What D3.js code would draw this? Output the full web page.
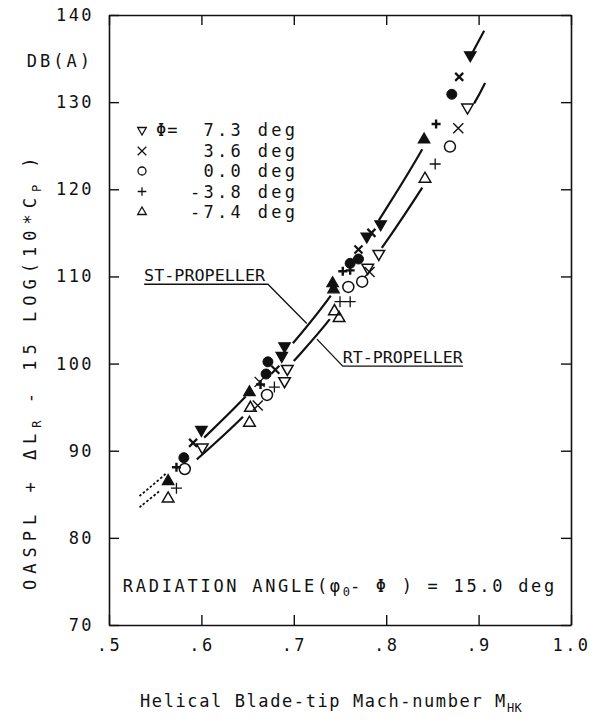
<!DOCTYPE html>
<html><head><meta charset="utf-8">
<script src="https://cdn.jsdelivr.net/npm/d3@7"></script>
<style>
body{margin:0;background:#fff}
text{font-family:'DejaVu Sans Mono',monospace;fill:#111;white-space:pre}
</style></head>
<body><svg id="c" width="590" height="723"></svg>
<script>
// ---------- data ----------
const xTicks = [0.5, 0.6, 0.7, 0.8, 0.9, 1.0];
const xTickLabels = [".5", ".6", ".7", ".8", ".9", "1.0"];
const yTicks = [70, 80, 90, 100, 110, 120, 130, 140];
const yTickLabels = ["70", "80", "90", "100", "110", "120", "130", "140"];
const legendPhi = ["7.3", "3.6", "0.0", "-3.8", "-7.4"];

// [Mach number, dB]  ST-propeller (filled / bold) and RT-propeller (open / thin)
const st_phi73  = [[0.600,92.4],[0.687,100.9],[0.690,102.0],[0.779,114.6],[0.794,116.0],[0.891,135.4]];
const rt_phi73  = [[0.601,90.4],[0.690,98.0],[0.693,99.4],[0.780,111.0],[0.792,112.6],[0.888,129.4]];
const st_phi36  = [[0.591,90.9],[0.680,99.3],[0.770,113.1],[0.784,115.0],[0.879,132.9]];
const rt_phi36  = [[0.663,97.9],[0.661,95.2],[0.782,110.5],[0.878,127.0]];
const st_phi00  = [[0.581,89.2],[0.670,98.8],[0.672,100.2],[0.761,111.5],[0.770,112.0],[0.871,130.9]];
const rt_phi00  = [[0.582,87.9],[0.671,96.4],[0.759,108.8],[0.774,109.4],[0.869,124.9]];
const st_phim38 = [[0.573,88.1],[0.664,97.6],[0.753,110.6],[0.761,110.7],[0.854,127.5]];
const rt_phim38 = [[0.573,85.7],[0.679,97.3],[0.750,107.1],[0.761,107.1],[0.853,122.9]];
const st_phim74 = [[0.564,86.5],[0.652,96.7],[0.742,109.2],[0.743,108.5],[0.841,125.7]];
const rt_phim74 = [[0.564,84.5],[0.652,93.2],[0.653,94.9],[0.744,106.0],[0.749,105.2],[0.842,121.2]];

// fitted curves
const stCurve = [[0.533,84.8],[0.563,87.5],[0.602,91.4],[0.645,95.9],[0.698,102.2],[0.740,107.8],[0.793,116.6],[0.839,124.6],[0.894,135.8],[0.906,138.2]];
const rtCurve = [[0.533,83.5],[0.555,85.4],[0.595,89.0],[0.645,93.9],[0.701,100.4],[0.739,105.1],[0.800,114.0],[0.839,120.2],[0.896,130.0],[0.907,132.2]];
const stSolid = [[0.603,0.648],[0.699,0.740],[0.792,0.839],[0.893,0.906]];
const stDotted = [0.533,0.562];
const rtSolid = [[0.595,0.645],[0.700,0.739],[0.795,0.839],[0.895,0.907]];
const rtDotted = [0.533,0.557];

// annotation leaders [M, dB]
const stLeader = [[0.538,109.1],[0.672,109.1],[0.714,104.6]];
const rtLeader = [[0.725,102.8],[0.753,99.7],[0.883,99.7]];
const stLabelPos = [0.538,109.5];
const rtLabelPos = [0.753,100.1];
const radPos = [0.515,73.8];

// ---------- drawing ----------
const MONO = "'DejaVu Sans Mono', monospace";
const INK = "#111";
const svg = d3.select("#c");
svg.append("rect").attr("width",590).attr("height",723).attr("fill","#fff");

const x = d3.scaleLinear().domain([0.5,1.0]).range([109,571]);
const y = d3.scaleLinear().domain([70,140]).range([625,15]);

function styleAxis(g){
  g.attr("font-family",MONO).attr("font-size",17);
  g.selectAll("path.domain").attr("stroke",INK).attr("stroke-width",1.6);
  g.selectAll(".tick line").attr("stroke",INK).attr("stroke-width",1.4);
  g.selectAll("text").attr("fill",INK).style("letter-spacing","2.4px");
}
svg.append("g").attr("transform","translate(0,625)")
  .call(d3.axisBottom(x).tickValues(xTicks).tickFormat((d,i)=>xTickLabels[i]).tickSize(-10).tickSizeOuter(0).tickPadding(14))
  .call(styleAxis);
svg.append("g").attr("transform","translate(0,15)")
  .call(d3.axisTop(x).tickValues(xTicks).tickFormat("").tickSize(-10).tickSizeOuter(0))
  .call(styleAxis);
svg.append("g").attr("transform","translate(109,0)")
  .call(d3.axisLeft(y).tickValues(yTicks).tickFormat((d,i)=>yTickLabels[i]).tickSize(-10).tickSizeOuter(0).tickPadding(15))
  .call(styleAxis);
svg.append("g").attr("transform","translate(571,0)")
  .call(d3.axisRight(y).tickValues(yTicks).tickFormat("").tickSize(-10).tickSizeOuter(0))
  .call(styleAxis);

// unit label
svg.append("text").attr("x",93).attr("y",67).attr("text-anchor","end")
  .attr("font-size",17).style("letter-spacing","3px").text("DB(A)");

// y title
const yt = svg.append("text").attr("transform","translate(36,590) rotate(-90)")
  .attr("font-size",17).style("letter-spacing","6px");
yt.append("tspan").text("OASPL + \u0394L");
yt.append("tspan").attr("font-size",12).attr("dy",5).style("letter-spacing","1px").text("R");
yt.append("tspan").attr("dy",-5).text(" - 15 LOG(10*C");
yt.append("tspan").attr("font-size",12).attr("dy",5).style("letter-spacing","1px").text("P");
yt.append("tspan").attr("dy",-5).text(" )");

// x title
const xt = svg.append("text").attr("x",140).attr("y",707).attr("font-size",17).style("letter-spacing","1.6px");
xt.append("tspan").text("Helical Blade-tip Mach-number M");
xt.append("tspan").attr("font-size",12).attr("dy",5).style("letter-spacing","0.5px").text("HK");

// curves
const gCurves = svg.append("g");
const line = d3.line().x(d=>x(d[0])).y(d=>y(d[1])).curve(d3.curveCatmullRom.alpha(0.5));
function drawCurve(pts, solid, dotted){
  const p = gCurves.append("path").datum(pts).attr("d",line).attr("fill","none")
    .attr("stroke",INK).attr("stroke-width",2.2);
  const node = p.node(), total = node.getTotalLength();
  const lenAt = m => { const px = x(m); let lo=0, hi=total;
    for(let k=0;k<40;k++){ const mid=(lo+hi)/2; if(node.getPointAtLength(mid).x<px) lo=mid; else hi=mid; }
    return (lo+hi)/2; };
  const b = solid.flatMap(s=>[lenAt(s[0]),lenAt(s[1])]);
  const arr=[0,b[0]];
  for(let i=0;i<b.length-1;i++) arr.push(b[i+1]-b[i]);
  arr.push(total);
  p.attr("stroke-dasharray",arr.join(" "));
  const d0 = lenAt(dotted[0]), d1 = lenAt(dotted[1]);
  const dots=[0,d0]; let L=d0;
  while(L+2.5<=d1){ dots.push(2.5,2); L+=4.5; }
  dots.push(0,total);
  gCurves.append("path").datum(pts).attr("d",line).attr("fill","none")
    .attr("stroke",INK).attr("stroke-width",1.8).attr("stroke-dasharray",dots.join(" "));
}
drawCurve(stCurve, stSolid, stDotted);
drawCurve(rtCurve, rtSolid, rtDotted);

// leaders + labels
const lineLin = d3.line().x(d=>x(d[0])).y(d=>y(d[1]));
svg.append("path").datum(stLeader).attr("d",lineLin).attr("fill","none").attr("stroke",INK).attr("stroke-width",1.3);
svg.append("path").datum(rtLeader).attr("d",lineLin).attr("fill","none").attr("stroke",INK).attr("stroke-width",1.3);
svg.append("text").attr("x",x(stLabelPos[0])).attr("y",y(stLabelPos[1]))
  .attr("font-family","'Liberation Sans', Arial, sans-serif").attr("font-size",16)
  .attr("textLength",121).attr("lengthAdjust","spacingAndGlyphs").text("ST-PROPELLER");
svg.append("text").attr("x",x(rtLabelPos[0])).attr("y",y(rtLabelPos[1]))
  .attr("font-family","'Liberation Sans', Arial, sans-serif").attr("font-size",16)
  .attr("textLength",120).attr("lengthAdjust","spacingAndGlyphs").text("RT-PROPELLER");

// radiation angle annotation
const ra = svg.append("text").attr("x",x(radPos[0])).attr("y",y(radPos[1])).attr("font-size",17).style("letter-spacing","2.7px");
ra.append("tspan").text("RADIATION ANGLE(\u03c6");
ra.append("tspan").attr("font-size",12).attr("dy",4).style("letter-spacing","0px").text("0");
ra.append("tspan").attr("dy",-4).text("- \u03a6 ) = 15.0 deg");

// markers
function sym(g, type, cx, cy, s, filled, sw){
  if(type==="down"||type==="up"){
    const h = s*1.732, k = type==="down"?1:-1;
    const pts = [[cx-s, cy-k*h/3],[cx+s, cy-k*h/3],[cx, cy+k*2*h/3]];
    g.append("path").attr("d","M"+pts.map(p=>p.join(",")).join("L")+"Z")
      .attr("fill",filled?INK:"none").attr("stroke",INK).attr("stroke-width",sw).attr("stroke-linejoin","miter");
  } else if(type==="circle"){
    g.append("circle").attr("cx",cx).attr("cy",cy).attr("r",s)
      .attr("fill",filled?INK:"none").attr("stroke",INK).attr("stroke-width",sw);
  } else if(type==="x"){
    g.append("path").attr("d",`M${cx-s},${cy-s}L${cx+s},${cy+s}M${cx-s},${cy+s}L${cx+s},${cy-s}`)
      .attr("stroke",INK).attr("stroke-width",sw);
  } else if(type==="plus"){
    g.append("path").attr("d",`M${cx-s},${cy}L${cx+s},${cy}M${cx},${cy-s}L${cx},${cy+s}`)
      .attr("stroke",INK).attr("stroke-width",sw);
  }
}
const seriesList = [
  {data:rt_phi73, type:"down", filled:false, s:5.8, sw:1.5},
  {data:rt_phim74, type:"up", filled:false, s:5.8, sw:1.5},
  {data:rt_phi00, type:"circle", filled:false, s:5.5, sw:1.5},
  {data:rt_phi36, type:"x", filled:false, s:5, sw:1.4},
  {data:rt_phim38, type:"plus", filled:false, s:5.5, sw:1.3},
  {data:st_phi73, type:"down", filled:true, s:5.8, sw:1.2},
  {data:st_phim74, type:"up", filled:true, s:5.8, sw:1.2},
  {data:st_phi00, type:"circle", filled:true, s:5, sw:1},
  {data:st_phi36, type:"x", filled:false, s:4, sw:2.2},
  {data:st_phim38, type:"plus", filled:false, s:4.5, sw:2.4}
];
const gm = svg.append("g");
seriesList.forEach(sr=>sr.data.forEach(d=>sym(gm, sr.type, x(d[0]), y(d[1]), sr.s, sr.filled, sr.sw)));

// legend
const legTypes = ["down","x","circle","plus","up"];
const legRows = [130,151,171,191.5,212];
const gl = svg.append("g");
legendPhi.forEach((v,i)=>{
  const cy = legRows[i];
  sym(gl, legTypes[i], 142, cy, legTypes[i]==="circle"?4:4.3, false, 1.3);
  const lbl = (v.startsWith("-")?"":" ") + v + " deg";
  gl.append("text").attr("x",190).attr("y",cy+6).attr("font-size",17).style("letter-spacing","3.3px").text(lbl);
});
gl.append("text").attr("x",156).attr("y",legRows[0]+6).attr("font-size",17).style("letter-spacing","1px").text("\u03a6=");
</script></body></html>
